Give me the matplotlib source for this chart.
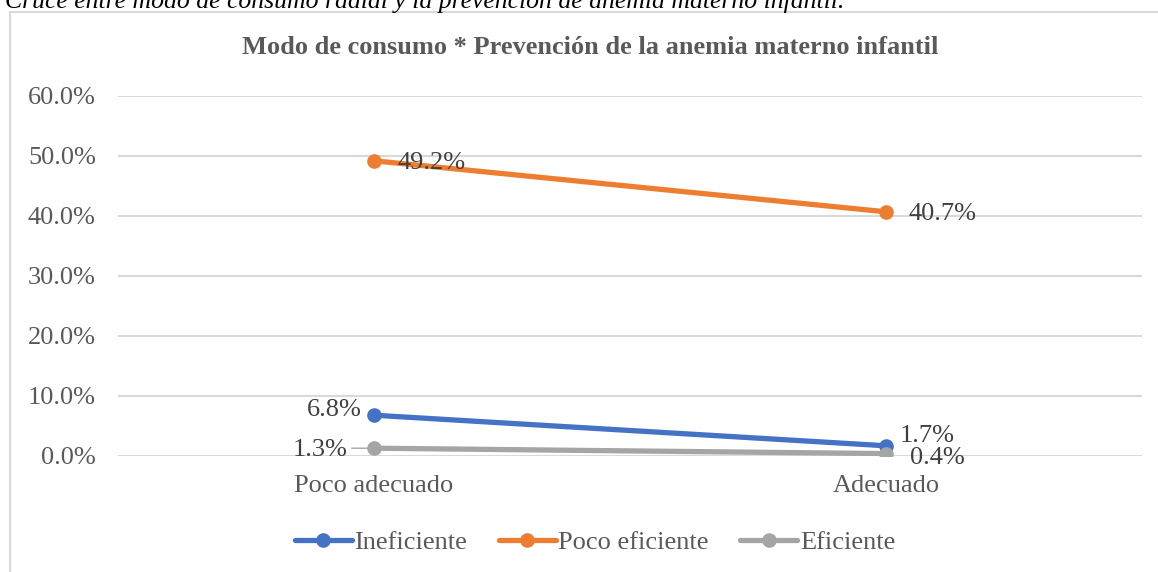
import matplotlib
matplotlib.use("Agg")
import matplotlib.pyplot as plt
from matplotlib.patches import Rectangle

categories = ["Poco adecuado", "Adecuado"]
series_names = ["Ineficiente", "Poco eficiente", "Eficiente"]
ineficiente = [6.8, 1.7]
poco_eficiente = [49.2, 40.7]
eficiente = [1.3, 0.4]
yticks = [0, 10, 20, 30, 40, 50, 60]

colors = ["#4472C4", "#ED7D31", "#A5A5A5"]
plt.rcParams['font.family'] = ['Liberation Serif', 'DejaVu Serif']

W, H = 1158, 572
FS = 19
fig = plt.figure(figsize=(W / 100, H / 100), dpi=100)

# chart border
fig.patches.append(Rectangle((10 / W, -0.1), 1.2, (H - 12) / H + 0.1,
                             transform=fig.transFigure, fill=False,
                             edgecolor="#D9D9D9", linewidth=1.5, zorder=0))

# caption (cut off at top)
fig.text(5 / W, 1 - 8 / H,
         "Cruce entre modo de consumo radial y la prevención de anemia materno infantil.",
         fontsize=18.5, style='italic', color='black', ha='left', va='baseline')

ax = fig.add_axes([118 / W, (H - 456) / H, (1142 - 118) / W, 360 / H])
x = list(range(len(categories)))
all_series = [ineficiente, poco_eficiente, eficiente]
for name, vals, c in zip(series_names, all_series, colors):
    ax.plot(x, vals, color=c, linewidth=3.8, marker='o', markersize=9.5,
            solid_capstyle='round', label=name, zorder=3)

ax.set_xlim(-0.5, len(categories) - 0.5)
ax.set_ylim(0, 60)
ax.set_yticks(yticks)
ax.set_yticklabels([f"{v:.1f}%" for v in yticks])
ax.set_xticks(x)
ax.set_xticklabels(categories)
ax.tick_params(axis='both', length=0, labelsize=FS, labelcolor="#595959")
ax.tick_params(axis='y', pad=16)
ax.tick_params(axis='x', pad=14)
ax.grid(axis='y', color="#D9D9D9", linewidth=1.5)
ax.set_axisbelow(True)
for s in ax.spines.values():
    s.set_visible(False)

lab_kw = dict(fontsize=FS, color="#404040", zorder=4)
# data labels
ax.annotate(f"{poco_eficiente[0]:.1f}%", (0, poco_eficiente[0]), xytext=(17, -1.5),
            textcoords='offset points', ha='left', va='center', **lab_kw)
ax.annotate(f"{poco_eficiente[1]:.1f}%", (1, poco_eficiente[1]), xytext=(16, -1.5),
            textcoords='offset points', ha='left', va='center', **lab_kw)
ax.annotate(f"{ineficiente[0]:.1f}%", (0, ineficiente[0]), xytext=(-9, 4),
            textcoords='offset points', ha='right', va='center', **lab_kw)
ax.annotate(f"{ineficiente[1]:.1f}%", (1, ineficiente[1]), xytext=(10, 7),
            textcoords='offset points', ha='left', va='center', **lab_kw)
ax.annotate(f"{eficiente[0]:.1f}%", (0, eficiente[0]), xytext=(-19, -1),
            textcoords='offset points', ha='right', va='center', **lab_kw)
ax.annotate("", (0, eficiente[0]), xytext=(-16, 0), textcoords='offset points',
            arrowprops=dict(arrowstyle='-', color='#A5A5A5', lw=1, shrinkA=0, shrinkB=0))
ax.annotate(f"{eficiente[1]:.1f}%", (1, eficiente[1]), xytext=(17, -3),
            textcoords='offset points', ha='left', va='center', **lab_kw)

leg = fig.legend(loc='center', bbox_to_anchor=(595 / W, 1 - 542 / H), ncol=3,
                 frameon=False, fontsize=FS, labelcolor="#595959",
                 handlelength=2.15, handletextpad=0.1, columnspacing=1.2)

fig.text(590 / W, 1 - 48 / H, "Modo de consumo * Prevención de la anemia materno infantil",
         fontsize=FS, fontweight='bold', color="#595959", ha='center', va='center')

fig.savefig("out.png", dpi=100)
